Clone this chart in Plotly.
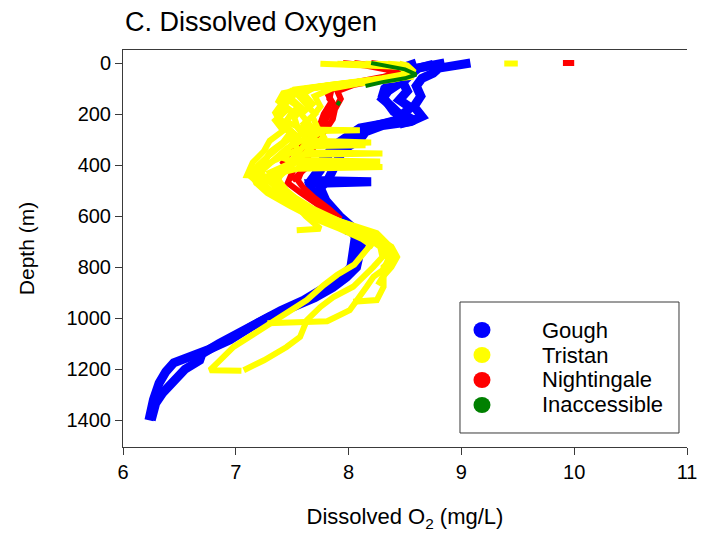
import plotly.graph_objects as go

# ---------------- Gough casts ----------------
gough_1_do = [9.08, 8.95, 8.80, 8.75, 8.65, 8.60, 8.64, 8.58, 8.65, 8.55, 8.30, 8.15, 8.10, 7.95, 7.88, 7.82,
              7.75, 7.80, 7.92, 8.05, 8.12, 8.10, 8.07, 7.98, 7.86, 7.70, 7.50, 7.30, 7.13, 6.95, 6.75, 6.60,
              6.45, 6.38, 6.32, 6.27, 6.23]
gough_1_depth = [0, 8, 20, 40, 60, 90, 130, 170, 210, 230, 245, 270, 300, 340, 400, 455,
                 490, 540, 600, 650, 700, 760, 800, 840, 880, 920, 955, 995, 1035, 1085, 1125, 1150,
                 1175, 1210, 1255, 1320, 1400]

gough_2_do = [8.85, 8.70, 8.55, 8.50, 8.45, 8.35, 8.30, 8.38, 8.45, 8.42, 8.20, 8.05, 7.90, 7.78, 7.75, 7.68,
              8.20, 7.66, 7.70, 7.83, 7.97, 8.06, 8.05, 8.02, 7.92, 7.78, 7.60, 7.40, 7.20, 7.02, 6.85, 6.70,
              6.68, 6.55, 6.45, 6.35, 6.29, 6.25]
gough_2_depth = [0, 10, 25, 50, 80, 110, 140, 170, 200, 225, 250, 280, 320, 370, 420, 460,
                 465, 472, 520, 580, 630, 680, 740, 800, 845, 885, 930, 970, 1015, 1060, 1100, 1140,
                 1165, 1200, 1243, 1294, 1333, 1400]

gough_3_do = [8.60, 8.50, 8.45, 8.40, 8.32, 8.30, 8.35, 8.40, 8.50, 8.35, 8.10, 8.00, 7.85, 7.80, 7.72, 7.65,
              7.68, 7.75, 7.88, 8.00]
gough_3_depth = [0, 15, 40, 70, 100, 130, 160, 190, 215, 235, 255, 285, 330, 380, 430, 470,
                 510, 560, 610, 660]

gough_4_do = [8.75, 8.62, 8.55, 8.48, 8.52, 8.45, 8.55, 8.48, 8.58, 8.45]
gough_4_depth = [5, 20, 45, 75, 110, 145, 175, 200, 225, 240]

# ---------------- Tristan casts ----------------
tristan_1_do = [7.75, 8.10, 8.45, 8.52, 8.57, 8.20, 7.80, 7.50, 7.45, 7.55, 7.50, 7.42, 7.52, 7.40, 7.30, 7.20,
                7.12, 7.22, 7.40, 7.58, 7.85, 8.12, 8.28, 8.30, 8.22, 8.04, 7.87, 7.75, 7.63, 7.57, 7.45, 7.25,
                7.07]
tristan_1_depth = [3, 8, 15, 35, 50, 68, 88, 108, 140, 170, 200, 240, 280, 320, 360, 400,
                   440, 480, 530, 580, 630, 670, 720, 760, 799, 877, 916, 956, 1008, 1073, 1113, 1165,
                   1204]

tristan_2_do = [7.90, 8.20, 8.48, 8.50, 8.50, 8.05, 7.65, 7.42, 7.38, 7.50, 7.45, 7.60, 8.10, 7.62, 7.50, 7.55,
                7.35, 7.18, 7.28, 7.45, 7.58, 7.88, 8.15, 8.30, 8.38, 8.34, 8.22, 8.16, 8.10, 8.01, 7.81, 7.28]
tristan_2_depth = [3, 7, 14, 40, 55, 75, 98, 118, 150, 190, 230, 261, 264, 267, 300, 340,
                   380, 420, 460, 510, 560, 615, 660, 700, 745, 799, 838, 877, 916, 969, 1012, 1020]

tristan_3_do = [8.05, 8.30, 8.50, 8.55, 8.45, 8.00, 7.62, 7.55, 7.62, 7.70, 7.60, 7.65, 7.70, 8.20, 7.70, 7.62,
                8.30, 7.60, 7.45, 7.30, 7.35, 7.50, 7.68, 7.92, 8.25, 8.37, 8.41, 8.31, 8.31, 8.25, 8.04]
tristan_3_depth = [3, 7, 15, 40, 58, 78, 100, 125, 160, 200, 240, 280, 305, 312, 318, 350,
                   355, 360, 400, 430, 470, 520, 570, 620, 667, 720, 759, 799, 877, 929, 936]

tristan_4_do = [8.25, 8.45, 8.52, 8.55, 8.35, 7.95, 7.58, 7.50, 7.42, 7.38, 7.45, 7.55, 7.48, 7.40, 7.60, 8.30,
                7.55, 7.30, 7.25, 7.42, 7.72, 8.01, 8.20, 8.22, 8.15, 8.05, 7.90, 7.78, 7.63, 7.30, 6.98, 6.83,
                6.77, 7.05]
tristan_4_depth = [3, 8, 20, 45, 62, 82, 105, 130, 170, 210, 250, 290, 330, 370, 400, 408,
                   414, 440, 480, 537, 603, 642, 667, 700, 740, 790, 830, 870, 929, 1021, 1113, 1178,
                   1204, 1206]

tristan_5_do = [8.35, 8.50, 8.55, 8.52, 8.25, 7.85, 7.48, 7.40, 7.45, 7.35, 7.42, 7.30, 7.25, 7.15, 7.10, 7.30,
                7.35, 7.50, 7.62, 7.75, 7.54]
tristan_5_depth = [3, 8, 25, 48, 66, 85, 112, 145, 185, 225, 265, 305, 345, 390, 440, 445,
                   490, 540, 600, 650, 655]

tristan_6_do = [8.50, 8.50, 8.50, 8.48, 8.10, 7.70, 7.60, 7.68, 7.58, 7.65, 7.72, 7.60, 8.15, 7.60, 7.50, 8.28,
                7.50, 7.40, 7.38, 7.45, 7.58, 7.78, 8.02, 8.22, 8.38, 8.43, 8.38, 8.30, 8.26]
tristan_6_depth = [3, 8, 30, 52, 72, 95, 120, 160, 200, 240, 280, 318, 322, 326, 380, 386,
                   390, 420, 460, 500, 550, 600, 640, 680, 720, 760, 800, 840, 870]

tristan_7_do = [8.15, 8.35, 8.50, 8.52, 8.30, 7.90, 7.52, 7.48, 7.58, 7.52, 7.55, 7.62, 7.45, 7.35, 7.25, 7.20,
                7.30, 7.48, 7.66, 7.95, 8.15, 8.30, 8.35, 8.32]
tristan_7_depth = [3, 6, 18, 42, 60, 80, 104, 135, 175, 215, 255, 295, 335, 375, 415, 455,
                   495, 540, 590, 640, 680, 720, 770, 800]

tristan_8_do = [7.95, 8.25, 8.48, 8.55, 8.55, 8.15, 7.75, 7.48, 7.42, 7.35, 7.40, 7.48, 7.42, 7.30, 7.25, 7.15,
                7.18, 7.28, 7.48, 7.70, 7.92, 8.12, 8.22]
tristan_8_depth = [3, 7, 14, 38, 55, 72, 92, 115, 150, 195, 235, 275, 310, 350, 395, 435,
                   470, 510, 560, 610, 650, 690, 720]

tristan_9_do = [8.45, 8.52, 8.57, 8.55, 8.40, 8.10, 7.85, 7.70, 7.75, 7.68, 7.72, 7.78, 7.65, 7.55, 7.45, 7.35,
                7.40, 7.55, 7.75, 7.98, 8.18, 8.32, 8.38, 8.36]
tristan_9_depth = [3, 10, 30, 50, 65, 80, 100, 130, 170, 210, 250, 290, 340, 380, 420, 460,
                   500, 550, 600, 640, 680, 720, 760, 790]

tristan_surface_do = [9.38, 9.50]
tristan_surface_depth = [2, 2]

# ---------------- Nightingale casts ----------------
nightingale_1_do = [8.20, 8.40, 8.50, 8.35, 8.05, 7.90, 7.93, 7.88, 7.86, 7.80, 7.72, 7.68, 7.62, 7.58, 7.55, 7.60,
                    7.70, 7.82, 7.93]
nightingale_1_depth = [0, 12, 40, 60, 85, 110, 140, 180, 220, 260, 300, 340, 380, 420, 460, 490,
                       530, 570, 612]

nightingale_2_do = [7.95, 8.15, 8.45, 8.30, 7.95, 7.80, 7.85, 7.78, 7.74, 7.65, 7.48, 7.42, 7.50, 7.46, 7.58, 7.72,
                    7.84, 7.92]
nightingale_2_depth = [0, 10, 35, 55, 85, 110, 150, 200, 250, 290, 350, 390, 430, 470, 510, 550,
                       590, 615]

nightingale_3_do = [8.05, 8.30, 8.52, 8.10, 7.85, 7.83, 7.88, 7.80, 7.76, 7.62, 7.55, 7.60, 7.50]
nightingale_3_depth = [0, 15, 45, 75, 100, 140, 170, 220, 270, 330, 370, 420, 460]

nightingale_surface_do = [9.90, 10.00]
nightingale_surface_depth = [0, 0]

# ---------------- Inaccessible cast ----------------
inaccessible_do = [8.20, 8.30, 8.50, 8.60, 8.50, 8.30, 8.15, None, 7.92, 7.90]
inaccessible_depth = [0, 8, 25, 45, 60, 75, 90, None, 150, 165]

# ---------------- series definitions ----------------
site_names = ["Gough", "Tristan", "Nightingale", "Inaccessible"]
site_colors = ["#0000FF", "#FFFF00", "#FF0000", "#008000"]
site_widths = [9, 6, 6, 4]

gough_casts = [(gough_1_do, gough_1_depth), (gough_2_do, gough_2_depth),
               (gough_3_do, gough_3_depth), (gough_4_do, gough_4_depth)]
tristan_casts = [(tristan_1_do, tristan_1_depth), (tristan_2_do, tristan_2_depth),
                 (tristan_3_do, tristan_3_depth), (tristan_4_do, tristan_4_depth),
                 (tristan_5_do, tristan_5_depth), (tristan_6_do, tristan_6_depth),
                 (tristan_7_do, tristan_7_depth), (tristan_8_do, tristan_8_depth),
                 (tristan_9_do, tristan_9_depth), (tristan_surface_do, tristan_surface_depth)]
nightingale_casts = [(nightingale_1_do, nightingale_1_depth), (nightingale_2_do, nightingale_2_depth),
                     (nightingale_3_do, nightingale_3_depth),
                     (nightingale_surface_do, nightingale_surface_depth)]
inaccessible_casts = [(inaccessible_do, inaccessible_depth)]

site_casts = dict(zip(site_names, [gough_casts, tristan_casts, nightingale_casts, inaccessible_casts]))
site_style = {n: (c, w) for n, c, w in zip(site_names, site_colors, site_widths)}

# drawing order: Gough underneath, then Nightingale, Tristan, Inaccessible on top
draw_order = ["Gough", "Nightingale", "Tristan", "Inaccessible"]

x_ticks = [6, 7, 8, 9, 10, 11]
y_ticks = [0, 200, 400, 600, 800, 1000, 1200, 1400]

FONT = "Liberation Sans, Arial, sans-serif"
AXIS_COLOR = "#3a3a3a"

fig = go.Figure()

for name in draw_order:
    color, width = site_style[name]
    for do_vals, depth_vals in site_casts[name]:
        fig.add_trace(go.Scatter(
            x=do_vals, y=depth_vals, mode="lines",
            line=dict(color=color, width=width),
            connectgaps=False, showlegend=False, hoverinfo="skip",
        ))

# ---------------- boxed key, lower right ----------------
key_left, key_right, key_top, key_bottom = 0.5975, 0.9858, 0.3652, 0.0353
key_symbol_x, key_text_x = 0.6365, 0.7394
key_rows_y = [0.2947, 0.2317, 0.1688, 0.1058]

shapes = [dict(type="rect", xref="paper", yref="paper",
               x0=key_left, x1=key_right, y0=key_bottom, y1=key_top,
               line=dict(color=AXIS_COLOR, width=1), fillcolor="white", layer="above")]
annotations = []
for name, color, ry in zip(site_names, site_colors, key_rows_y):
    shapes.append(dict(type="circle", xref="paper", yref="paper",
                       xsizemode="pixel", ysizemode="pixel",
                       xanchor=key_symbol_x, yanchor=ry,
                       x0=-8.5, x1=8.5, y0=-8, y1=8,
                       fillcolor=color, line=dict(width=0), layer="above"))
    annotations.append(dict(text=name, xref="paper", yref="paper",
                            x=key_text_x, y=ry, xanchor="left", yanchor="middle",
                            showarrow=False, font=dict(size=22, family=FONT, color="black")))

fig.update_layout(
    width=703, height=537,
    margin=dict(l=123, r=16, t=50, b=90),
    paper_bgcolor="white", plot_bgcolor="white",
    font=dict(family=FONT, color="black"),
    showlegend=False,
    title=dict(
        text="C. Dissolved Oxygen",
        font=dict(size=27, family=FONT, color="black"),
        xref="container", x=125 / 703, xanchor="left",
        yref="container", y=1 - 22 / 537, yanchor="middle",
    ),
    shapes=shapes,
    annotations=annotations,
    xaxis=dict(
        range=[6, 11], tickvals=x_ticks, ticktext=[str(v) for v in x_ticks],
        showline=True, linecolor=AXIS_COLOR, linewidth=1, mirror=True,
        ticks="outside", ticklen=7, tickcolor=AXIS_COLOR,
        showgrid=False, zeroline=False, automargin=False,
        tickfont=dict(size=20, family=FONT, color="black"),
        title=dict(text="Dissolved O<sub>2</sub> (mg/L)", font=dict(size=22, family=FONT, color="black"),
                   standoff=26),
    ),
    yaxis=dict(
        range=[1505, -51], tickvals=y_ticks, ticktext=[str(v) for v in y_ticks],
        showline=True, linecolor=AXIS_COLOR, linewidth=1, mirror=False,
        ticks="outside", ticklen=7, tickcolor=AXIS_COLOR,
        showgrid=False, zeroline=False, automargin=False,
        tickfont=dict(size=20, family=FONT, color="black"),
        title=dict(text="Depth (m)", font=dict(size=21, family=FONT, color="black"), standoff=26),
    ),
)

fig.write_html("out.html")
